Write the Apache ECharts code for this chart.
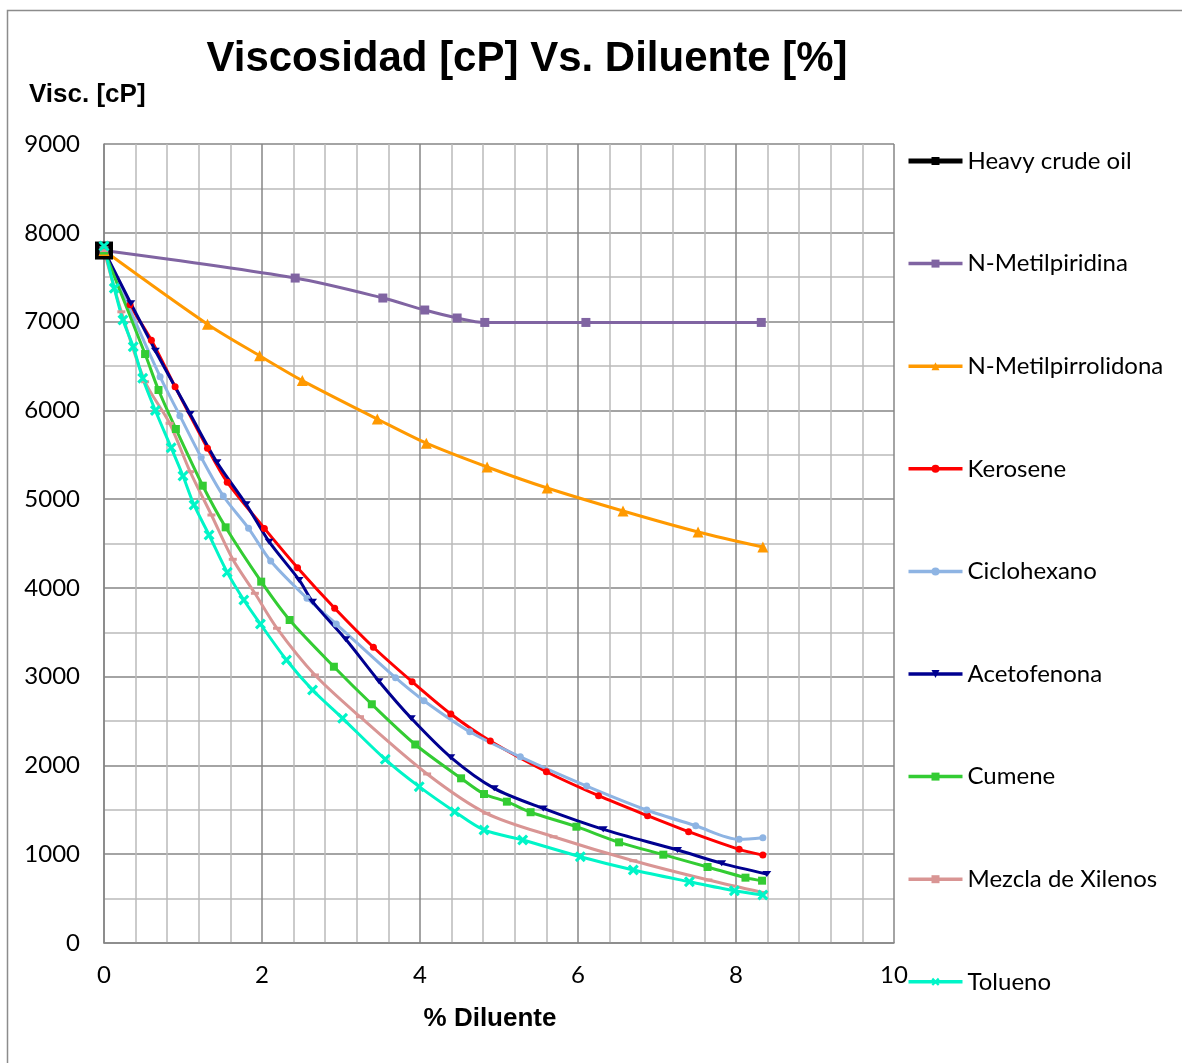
<!DOCTYPE html>
<html><head><meta charset="utf-8">
<script src="https://cdn.jsdelivr.net/npm/echarts@6/dist/echarts.min.js"></script>
<style>html,body{margin:0;padding:0;background:#fff}#c{width:1182px;height:1063px}</style>
</head><body><div id="c"></div>
<script>
// ---- data (x = % Diluente, y = Viscosidad cP) ----
const seriesNames = ['Heavy crude oil','N-Metilpiridina','N-Metilpirrolidona','Kerosene','Ciclohexano','Acetofenona','Cumene','Mezcla de Xilenos','Tolueno'];
const heavyCrude = [[0,7800]];
const metilpiridina = [[0,7800],[2.42,7490],[3.53,7265],[4.06,7130],[4.47,7040],[4.82,6990],[6.10,6990],[8.32,6990]];
const metilpirrolidona = [[0,7800],[1.31,6970],[1.97,6615],[2.51,6335],[3.46,5902],[4.08,5630],[4.85,5362],[5.61,5125],[6.57,4866],[7.52,4630],[8.34,4460]];
const kerosene = [[0,7800],[0.33,7190],[0.60,6790],[0.90,6265],[1.31,5572],[1.56,5190],[2.03,4670],[2.45,4227],[2.92,3770],[3.41,3331],[3.90,2943],[4.39,2579],[4.89,2275],[5.60,1929],[6.26,1659],[6.88,1434],[7.40,1254],[8.04,1055],[8.34,990]];
const ciclohexano = [[0,7800],[0.71,6379],[0.96,5940],[1.23,5471],[1.51,5035],[1.83,4671],[2.11,4303],[2.57,3883],[2.94,3593],[3.69,2988],[4.05,2729],[4.63,2379],[5.27,2097],[6.11,1768],[6.87,1498],[7.49,1321],[8.04,1168],[8.34,1186]];
const acetofenona = [[0,7800],[0.34,7205],[0.65,6672],[1.09,5959],[1.43,5415],[1.80,4941],[2.09,4520],[2.47,4089],[2.64,3845],[3.06,3421],[3.48,2949],[3.89,2531],[4.39,2092],[4.94,1742],[5.56,1516],[6.32,1280],[7.26,1047],[7.82,897],[8.39,777]];
const cumene = [[0,7800],[0.52,6634],[0.69,6229],[0.91,5790],[1.25,5151],[1.54,4682],[1.99,4070],[2.35,3638],[2.91,3112],[3.39,2689],[3.94,2236],[4.52,1855],[4.81,1678],[5.10,1592],[5.40,1473],[5.98,1310],[6.52,1134],[7.08,995],[7.64,856],[8.12,736],[8.33,702]];
const mezclaXilenos = [[0,7800],[0.22,7110],[0.52,6322],[0.83,5854],[1.09,5309],[1.36,4821],[1.63,4322],[1.91,3939],[2.19,3545],[2.67,3019],[3.24,2549],[4.09,1904],[4.84,1461],[5.69,1197],[6.70,927],[7.65,710],[8.35,567]];
const tolueno = [[0,7850],[0.13,7375],[0.24,7017],[0.37,6717],[0.49,6361],[0.65,5998],[0.85,5579],[1.00,5260],[1.14,4934],[1.33,4596],[1.56,4175],[1.77,3864],[1.98,3593],[2.31,3188],[2.64,2850],[3.02,2531],[3.56,2069],[3.99,1761],[4.44,1479],[4.81,1273],[5.30,1160],[6.03,972],[6.70,822],[7.41,690],[7.98,589],[8.34,541]];

const xPath = 'path://M2,0 L5,3 L8,0 L10,2 L7,5 L10,8 L8,10 L5,7 L2,10 L0,8 L3,5 L0,2 Z';

function line(name, data, color, symbol, size, extra) {
  return Object.assign({
    name, type:'line', data, smooth:0.3,
    symbol, symbolSize:size, showSymbol:true,
    lineStyle:{color, width:3},
    itemStyle:{color, borderWidth:0},
    emphasis:{disabled:true}
  }, extra || {});
}

const legendData = seriesNames.map((n, i) => i === 0 ? {name:n, lineStyle:{width:5}} : {name:n});

const chart = echarts.init(document.getElementById('c'), null, {renderer:'canvas'});
chart.setOption({
  animation:false,
  backgroundColor:'#fff',
  grid:{left:104, right:288, top:144, bottom:120, containLabel:false},
  xAxis:{
    type:'value', min:0, max:10, interval:2,
    axisLine:{show:true, onZero:false, lineStyle:{color:'#868686', width:1.5}},
    axisTick:{show:false},
    axisLabel:{fontFamily:'Lato', fontSize:24, color:'#000', margin:20, formatter:v => String(v)},
    splitLine:{show:true, lineStyle:{color:'#868686', width:1.5}},
    minorTick:{show:false, splitNumber:5},
    minorSplitLine:{show:true, lineStyle:{color:'#bababa', width:1.5}}
  },
  yAxis:{
    type:'value', min:0, max:9000, interval:1000,
    axisLine:{show:true, lineStyle:{color:'#868686', width:1.5}},
    axisTick:{show:false},
    axisLabel:{fontFamily:'Lato', fontSize:24, color:'#000', margin:24, formatter:v => String(v)},
    splitLine:{show:true, lineStyle:{color:'#868686', width:1.5}},
    minorTick:{show:false, splitNumber:2},
    minorSplitLine:{show:true, lineStyle:{color:'#bababa', width:1.5}}
  },
  legend:{
    orient:'vertical', left:906, top:148, padding:0,
    itemWidth:54, itemHeight:10, itemGap:76.6,
    selectedMode:false,
    lineStyle:{width:3.5},
    textStyle:{fontFamily:'Lato', fontSize:24, color:'#000', lineHeight:26},
    data:legendData
  },
  graphic:[
    {type:'rect', shape:{x:7.5, y:10.5, width:1250, height:1150}, style:{fill:null, stroke:'#8c8c8c', lineWidth:1.5}, silent:true},
    {type:'text', x:527, y:59, style:{text:'Viscosidad [cP] Vs. Diluente [%]', font:'bold 42px "Liberation Sans", Arial', fill:'#000', textAlign:'center', textVerticalAlign:'middle'}},
    {type:'text', x:29, y:95, style:{text:'Visc. [cP]', font:'bold 26px "Liberation Sans", Arial', fill:'#000', textAlign:'left', textVerticalAlign:'middle'}},
    {type:'text', x:490, y:1019, style:{text:'% Diluente', font:'bold 26px "Liberation Sans", Arial', fill:'#000', textAlign:'center', textVerticalAlign:'middle'}}
  ],
  series:[
    line(seriesNames[0], heavyCrude, '#000000', 'rect', 18, {lineStyle:{color:'#000', width:5}}),
    line(seriesNames[1], metilpiridina, '#8064a2', 'rect', 9),
    line(seriesNames[2], metilpirrolidona, '#ff9900', 'triangle', 11),
    line(seriesNames[3], kerosene, '#ff0000', 'circle', 7),
    line(seriesNames[4], ciclohexano, '#8eb4e3', 'circle', 7),
    line(seriesNames[5], acetofenona, '#000090', 'triangle', [9,6], {symbolRotate:180}),
    line(seriesNames[6], cumene, '#33cc33', 'rect', 8),
    line(seriesNames[7], mezclaXilenos, '#d99594', 'rect', [8,3]),
    line(seriesNames[8], tolueno, '#00f5c8', xPath, 11)
  ]
});
</script>
</body></html>
